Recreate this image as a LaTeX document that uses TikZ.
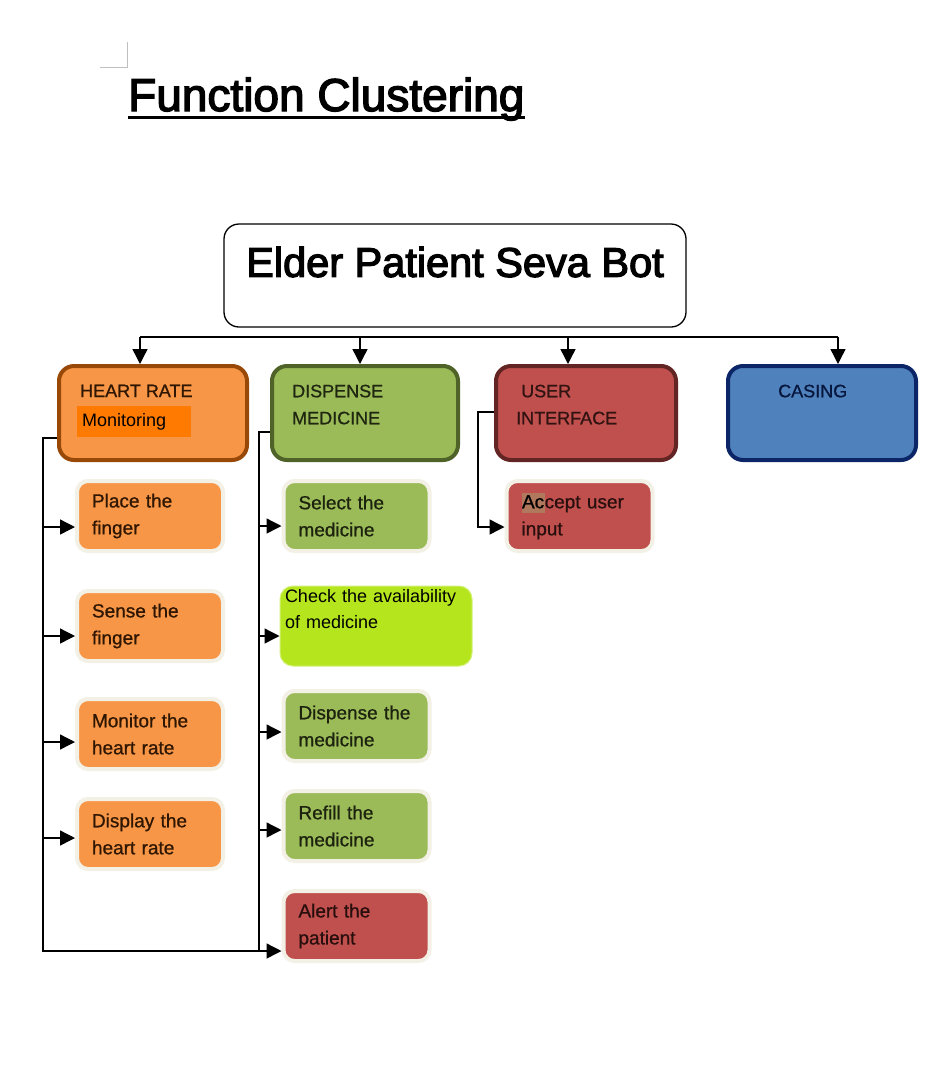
\documentclass[tikz,border=0pt]{standalone}
\usepackage{fontspec}
\setmainfont{Liberation Sans}
\newfontfamily\headfont[FakeBold=3]{Liberation Sans}
\newfontfamily\boxfont[FakeBold=0.8]{Liberation Sans}
\usetikzlibrary{arrows.meta,calc}
\definecolor{hrorange}{HTML}{F79646}
\definecolor{hrborder}{HTML}{984807}
\definecolor{dmgreen}{HTML}{9BBB59}
\definecolor{dmborder}{HTML}{4F6228}
\definecolor{uired}{HTML}{C0504D}
\definecolor{uiborder}{HTML}{632523}
\definecolor{csblue}{HTML}{4F81BD}
\definecolor{csborder}{HTML}{0B2566}
\definecolor{limegreen}{HTML}{B5E61D}
\definecolor{hlorange}{HTML}{FF7A00}
\definecolor{hltan}{HTML}{B0785C}
\definecolor{glow}{HTML}{F3F0E6}
\tikzset{
	catbox/.style={draw, rounded corners=15pt, line width=4pt, minimum height=94pt, inner sep=0pt},
	cattext/.style={anchor=north west, inner sep=0pt, align=left, font=\boxfont\fontsize{18pt}{27pt}\selectfont},
	subbox/.style={draw=glow, line width=4pt, rounded corners=11pt, minimum height=70pt, inner xsep=15pt, text width=116pt, align=left, font=\boxfont\fontsize{19pt}{27pt}\selectfont},
	wire/.style={line width=1.4pt},
	arrowline/.style={line width=1.4pt, -{Triangle[length=15pt,width=15pt]}}
}

\begin{document}
\begin{tikzpicture}[x=1pt,y=1pt]
	\fill[white] (0,0) rectangle (942,-1088);
	\useasboundingbox (0,0) rectangle (942,-1088);

	% page corner mark and heading
	\draw[black!25, line width=1pt] (100,-67) -- (127,-67) -- (127,-42);
	\node[anchor=base west, inner sep=0pt, font=\headfont\fontsize{46pt}{50pt}\selectfont] (title) at (128,-111) {Function Clustering};
	\draw[line width=3pt] ([yshift=-6pt]title.base west) -- ([yshift=-6pt]title.base east);

	\node[draw, line width=1.3pt, rounded corners=15pt, minimum width=462pt, minimum height=103pt] (top) at (455,-275.5) {};
	\node[inner sep=0pt, font=\headfont\fontsize{41.5pt}{46pt}\selectfont] (top-text) at (455,-262) {Elder Patient Seva Bot};

	% function groups
	\node[catbox, fill=hrorange, draw=hrborder, minimum width=188pt] (hr) at (153,-413) {};
	\node[cattext, text=hrborder!30!black] (hr-text) at (80,-384.5) {HEART RATE};
	\node[fill=hlorange, anchor=north west, minimum height=31pt, inner xsep=5pt, inner ysep=0pt, text width=104pt, align=left, font=\fontsize{18pt}{22pt}\selectfont] (hr-mark) at (77,-406) {Monitoring};

	\node[catbox, fill=dmgreen, draw=dmborder, minimum width=186pt] (dm) at (365,-413) {};
	\node[cattext, text=dmborder!40!black] (dm-text) at (292,-384.5) {DISPENSE\\MEDICINE};

	\node[catbox, fill=uired, draw=uiborder, minimum width=180pt] (ui) at (586,-413) {};
	\node[cattext, text=uiborder!50!black] (ui-text) at (516,-384.5) {\hspace*{5pt}USER\\INTERFACE};

	\node[catbox, fill=csblue, draw=csborder, minimum width=188pt] (cs) at (822,-413) {};
	\node[cattext, text=csborder!60!black] (cs-text) at (778,-384.5) {CASING};

	% sub functions
	\node[subbox, fill=hrorange, text=hrborder!30!black] (pf) at (150,-516) {Place the\\finger};
	\node[subbox, fill=hrorange, text=hrborder!30!black] (sf) at (150,-626) {Sense the\\finger};
	\node[subbox, fill=hrorange, text=hrborder!30!black] (mh) at (150,-734) {Monitor the\\heart rate};
	\node[subbox, fill=hrorange, text=hrborder!30!black] (dh) at (150,-834) {Display the\\heart rate};

	\node[subbox, fill=dmgreen, text=dmborder!35!black] (sm) at (356.5,-516) {Select the\\medicine};
	\node[subbox, fill=limegreen, draw=limegreen!60!white, line width=1pt, rounded corners=13pt, text width=182pt, inner xsep=5pt, minimum height=80pt, text=black, font=\fontsize{18pt}{26pt}\selectfont] (ca) at (376,-626) {Check the availability\\of medicine\\\strut};
	\node[subbox, fill=dmgreen, text=dmborder!35!black] (dp) at (356.5,-726) {Dispense the\\medicine};
	\node[subbox, fill=dmgreen, text=dmborder!35!black] (rf) at (356.5,-826) {Refill the\\medicine};
	\node[subbox, fill=uired, text=uiborder!40!black] (ap) at (356.5,-926) {Alert the\\patient};

	\node[subbox, fill=uired, text=uiborder!40!black] (au) at (579.5,-516) {{\setlength{\fboxsep}{0.5pt}\colorbox{hltan}{\rule[-4pt]{0pt}{19pt}\textcolor{black}{Ac}}}cept user\\input};

	% connectors
	\coordinate (bus-hr) at (140,-337);
	\coordinate (bus-dm) at (360,-337);
	\coordinate (bus-ui) at (568,-337);
	\coordinate (bus-cs) at (838,-337);
	\draw[wire] (bus-hr) -- (bus-cs);
	\foreach \n in {hr,dm,ui,cs}
		\draw[arrowline] (bus-\n) -- (bus-\n |- \n.north);

	\coordinate (hr-top) at (43,-438);
	\coordinate (hr-bot) at (43,-951);
	\coordinate (dm-top) at (259,-432);
	\coordinate (dm-bot) at (259,-951);
	\coordinate (ui-top) at (478,-412);
	\draw[wire] (hr.west |- hr-top) -- (hr-top) -- (hr-bot) -- (dm-bot);
	\draw[wire] (dm.west |- dm-top) -- (dm-top) -- (dm-bot);
	\draw[arrowline] (dm-bot) -- (dm-bot -| ap.west);
	\foreach \n/\d in {pf/11,sf/10,mh/8,dh/4}
		\draw[arrowline] ($(\n.west -| hr-top)+(0,-\d)$) -- ($(\n.west)+(0,-\d)$);
	\foreach \n/\d in {sm/10,ca/10,dp/6,rf/4}
		\draw[arrowline] ($(\n.west -| dm-top)+(0,-\d)$) -- ($(\n.west)+(0,-\d)$);
	\draw[arrowline] (ui.west |- ui-top) -- (ui-top) |- ($(au.west)+(0,-11)$);
\end{tikzpicture}
\end{document}
